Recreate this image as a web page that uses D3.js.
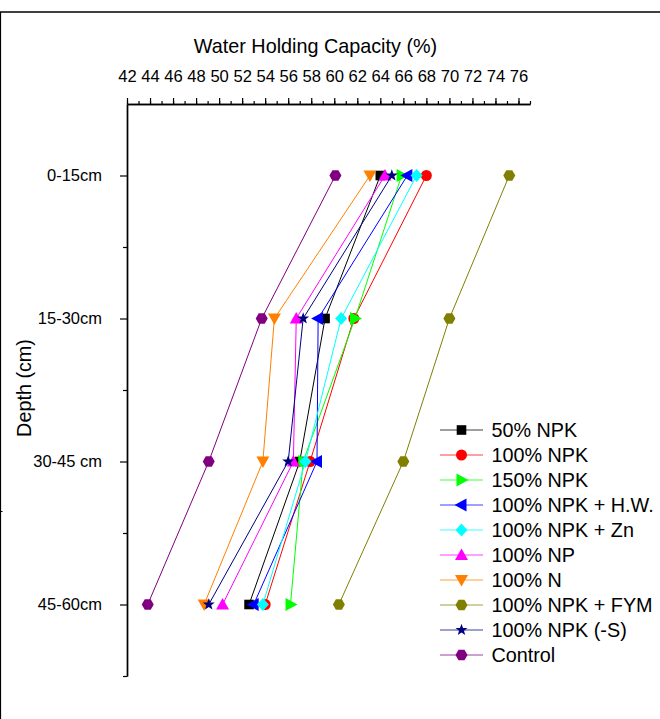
<!DOCTYPE html>
<html>
<head>
<meta charset="utf-8">
<script src="https://cdn.jsdelivr.net/npm/d3@7"></script>
<style>
  body { margin: 0; background: #fff; }
  svg { display: block; font-family: "Liberation Sans", Arial, sans-serif; }
</style>
</head>
<body>
<div id="chart"></div>
<script>
// depth layers (y categories)
const depths = ["0-15cm", "15-30cm", "30-45 cm", "45-60cm"];

// treatments, in legend order
const treatments = ["50% NPK", "100% NPK", "150% NPK", "100% NPK + H.W.", "100% NPK + Zn",
                    "100% NP", "100% N", "100% NPK + FYM", "100% NPK (-S)", "Control"];

// water holding capacity (%) per depth
const npk50   = [64.0, 59.2, 57.0, 52.6];
const npk100  = [68.0, 61.7, 57.9, 54.0];
const npk150  = [65.85, 61.8, 57.3, 56.2];
const npkHW   = [66.35, 58.6, 58.5, 53.0];
const npkZn   = [67.15, 60.6, 57.5, 53.8];
const np100   = [64.4, 56.7, 56.45, 50.3];
const n100    = [63.1, 54.8, 53.8, 48.7];
const npkFYM  = [75.2, 70.0, 66.0, 60.4];
const npkNoS  = [65.0, 57.3, 56.0, 49.1];
const control = [60.1, 53.7, 49.1, 43.8];

const seriesValues = [npk50, npk100, npk150, npkHW, npkZn, np100, n100, npkFYM, npkNoS, control];
const colors = ['#000000', '#FF0000', '#00FF00', '#0000FF', '#00FFFF',
                '#FF00FF', '#FF8000', '#808000', '#000080', '#800080'];
const shapes = ['square', 'circle', 'triRight', 'triLeft', 'diamond',
                'triUp', 'triDown', 'hexagon', 'star', 'hexagon'];

const xMajor = d3.range(42, 77, 2);   // labelled ticks 42..76
const xMinor = d3.range(42, 78, 1);

const W = 660, H = 719;
const svg = d3.select('#chart').append('svg')
    .attr('width', W)
    .attr('height', H);

// page frame (top and left edges)
svg.append('line').attr('x1', 0).attr('x2', W).attr('y1', 12).attr('y2', 12)
    .attr('stroke', 'black').attr('stroke-width', 1.6);
svg.append('line').attr('x1', 0.5).attr('x2', 0.5).attr('y1', 12).attr('y2', H)
    .attr('stroke', 'black').attr('stroke-width', 1.2);
svg.append('line').attr('x1', 0).attr('x2', 2.5).attr('y1', 511.5).attr('y2', 511.5)
    .attr('stroke', 'black').attr('stroke-width', 1);

const x = d3.scaleLinear().domain([42, 77]).range([127, 530]);
const y = d3.scaleLinear().domain([0.5, 4.5]).range([104, 676]);

// x axis on top
const xAxisG = svg.append('g').attr('transform', 'translate(0,104)');
xAxisG.call(d3.axisTop(x).tickValues(xMinor).tickSize(3).tickSizeOuter(0).tickFormat(''));
xAxisG.append('g').call(d3.axisTop(x).tickValues(xMajor).tickSize(6).tickSizeOuter(0).tickPadding(16).tickFormat(d3.format('d')));
xAxisG.selectAll('path.domain').attr('stroke-width', 1.4);
xAxisG.selectAll('.tick line').attr('stroke-width', 1.2);
xAxisG.selectAll('text').attr('font-size', '16.6px').attr('fill', '#000')
    .attr('font-family', '"Liberation Sans", Arial, sans-serif');
xAxisG.select('g').select('path.domain').remove();

// y axis on left
const yAxisG = svg.append('g').attr('transform', 'translate(127,0)');
yAxisG.call(d3.axisLeft(y).tickValues([1.5, 2.5, 3.5, 4.5]).tickSize(4).tickSizeOuter(0).tickFormat(''));
yAxisG.append('g').call(d3.axisLeft(y).tickValues([1, 2, 3, 4]).tickSize(7).tickSizeOuter(0).tickPadding(18)
    .tickFormat(d => depths[d - 1]));
yAxisG.selectAll('path.domain').attr('stroke-width', 1.4);
yAxisG.selectAll('.tick line').attr('stroke-width', 1.2);
yAxisG.selectAll('text').attr('font-size', '16.5px').attr('fill', '#000')
    .attr('font-family', '"Liberation Sans", Arial, sans-serif');
yAxisG.select('g').select('path.domain').remove();

// axis titles
svg.append('text')
    .attr('x', 315.5).attr('y', 53)
    .attr('text-anchor', 'middle')
    .attr('font-size', '19.8px')
    .text('Water Holding Capacity (%)');
svg.append('text')
    .attr('transform', 'translate(31,388) rotate(-90)')
    .attr('text-anchor', 'middle')
    .attr('font-size', '19.8px')
    .text('Depth (cm)');

// marker shapes
function markerPath(shape) {
    switch (shape) {
        case 'square':  return 'M-4.8,-4.8H4.8V4.8H-4.8Z';
        case 'circle':  return 'M5.5,0A5.5,5.5 0 1,1 -5.5,0A5.5,5.5 0 1,1 5.5,0Z';
        case 'triRight': return 'M-5,-6.5L7,0L-5,6.5Z';
        case 'triLeft':  return 'M5,-6.5L-7,0L5,6.5Z';
        case 'triUp':    return 'M0,-6.5L6.5,5L-6.5,5Z';
        case 'triDown':  return 'M0,6.5L6.5,-5L-6.5,-5Z';
        case 'diamond':  return 'M0,-6.5L6,0L0,6.5L-6,0Z';
        case 'hexagon': {
            const pts = d3.range(6).map(i => {
                const a = Math.PI / 3 * i;
                return [6 * Math.cos(a), 6 * Math.sin(a)];
            });
            return 'M' + pts.join('L') + 'Z';
        }
        case 'star': {
            const pts = d3.range(10).map(i => {
                const a = -Math.PI / 2 + Math.PI / 5 * i;
                const r = i % 2 === 0 ? 6.3 : 2.6;
                return [r * Math.cos(a), r * Math.sin(a)];
            });
            return 'M' + pts.join('L') + 'Z';
        }
    }
}

const line = d3.line()
    .x(d => x(d))
    .y((d, i) => y(i + 1));

// series: line then markers, in legend order
for (let s = 0; s < treatments.length; s++) {
    const vals = seriesValues[s];
    const g = svg.append('g');
    g.append('path')
        .attr('d', line(vals))
        .attr('fill', 'none')
        .attr('stroke', colors[s])
        .attr('stroke-width', 1);
    g.selectAll('path.mk').data(vals).enter().append('path')
        .attr('class', 'mk')
        .attr('transform', (d, i) => 'translate(' + x(d) + ',' + y(i + 1) + ')')
        .attr('d', markerPath(shapes[s]))
        .attr('fill', colors[s]);
}

// legend
const legend = svg.append('g');
for (let s = 0; s < treatments.length; s++) {
    const ly = 430 + 25 * s;
    const row = legend.append('g').attr('transform', 'translate(0,' + ly + ')');
    row.append('line').attr('x1', 440).attr('x2', 483).attr('y1', 0).attr('y2', 0)
        .attr('stroke', colors[s]).attr('stroke-width', 1).attr('opacity', 0.75);
    row.append('path')
        .attr('transform', 'translate(461.5,0)')
        .attr('d', markerPath(shapes[s]))
        .attr('fill', colors[s]);
    row.append('text')
        .attr('x', 491.5).attr('y', 0).attr('dy', '0.35em')
        .attr('font-size', '19.8px')
        .text(treatments[s]);
}
</script>
</body>
</html>
